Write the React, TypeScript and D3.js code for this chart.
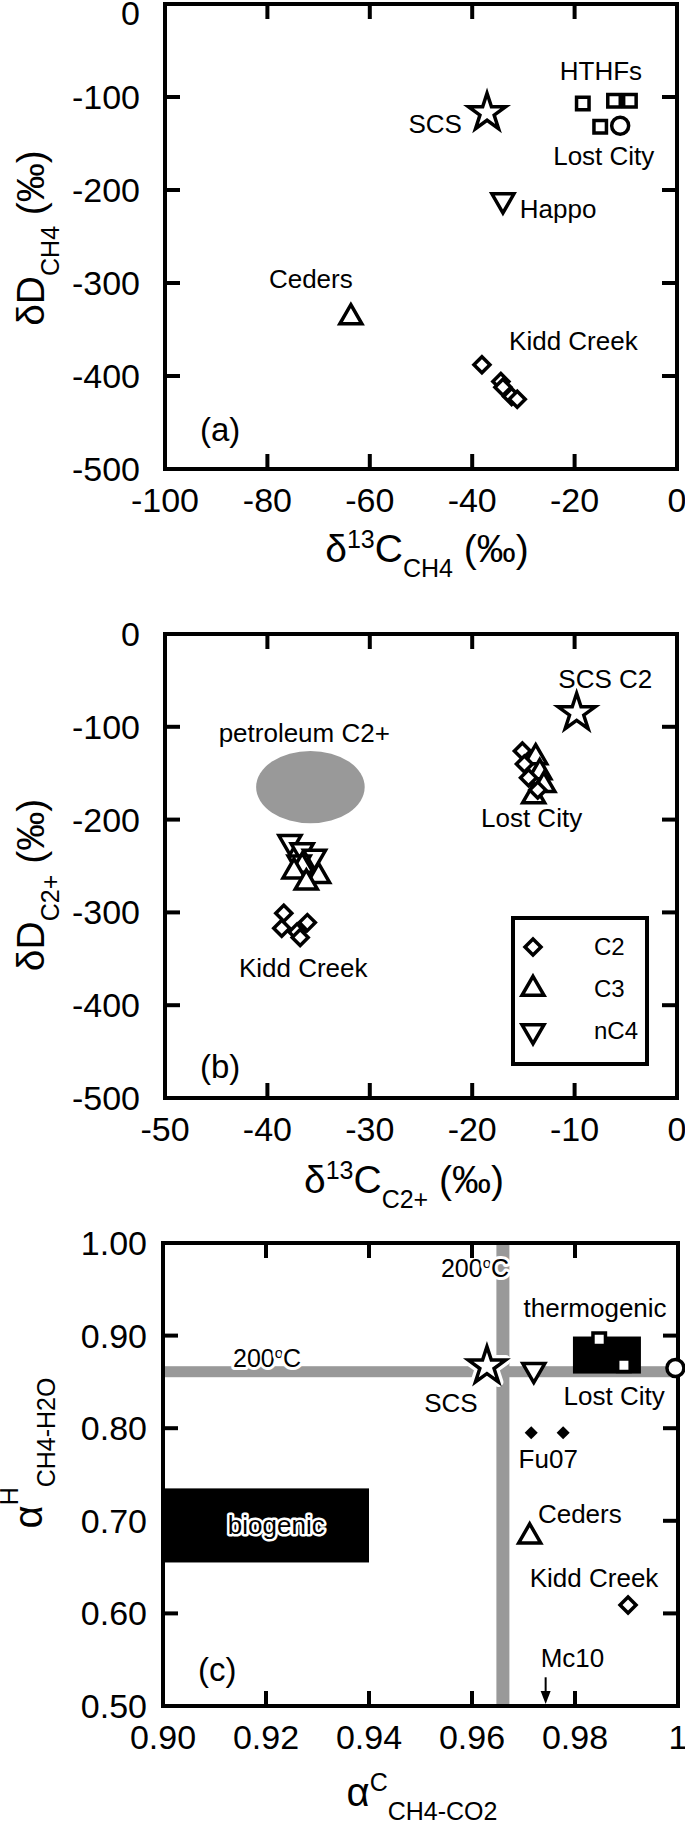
import * as d3 from 'd3';

type Pt = [number, number];
type Scale = d3.ScaleLinear<number, number>;

// (a) dD vs d13C of methane
const aScs: Pt[] = [[-37.1, -117]];
const aHthfs: Pt[] = [[-18.4, -107], [-12.3, -104], [-9.2, -104], [-15.0, -132]];
const aLostCity: Pt[] = [[-11.1, -131]];
const aHappo: Pt[] = [[-34.0, -211]];
const aCeders: Pt[] = [[-63.7, -337]];
const aKiddCreek: Pt[] = [[-38.1, -388], [-34.4, -406], [-34.0, -412], [-32.3, -422], [-31.2, -425]];
const aXTicks = [-100, -80, -60, -40, -20, 0];
const aYTicks = [0, -100, -200, -300, -400, -500];

// (b) dD vs d13C of C2+ hydrocarbons
const bScsC2: Pt[] = [[-9.8, -85]];
const bLostCityC2: Pt[] = [[-15.1, -126], [-14.9, -140], [-14.5, -155], [-13.6, -168]];
const bLostCityC3: Pt[] = [[-13.8, -133], [-13.4, -149], [-13.0, -163], [-14.0, -175]];
const bKiddC2: Pt[] = [[-38.4, -301], [-38.6, -317], [-36.1, -311], [-37.1, -321], [-36.8, -327]];
const bKiddC3: Pt[] = [[-36.6, -250], [-37.4, -256], [-35.0, -261], [-36.2, -268]];
const bKiddNC4: Pt[] = [[-37.8, -224], [-36.6, -233], [-35.4, -240], [-36.9, -246]];
const bPetroleumCenter: Pt = [-35.8, -165];
const bPetroleumRadius: Pt = [5.3, 39];
const bXTicks = [-50, -40, -30, -20, -10, 0];
const bYTicks = [0, -100, -200, -300, -400, -500];
const bLegendLabels = ['C2', 'C3', 'nC4'];

// (c) fractionation factors alpha-H vs alpha-C
const cScs: Pt[] = [[0.9629, 0.867]];
const cHappo: Pt[] = [[0.972, 0.863]];
const cHthfs: Pt[] = [[0.9847, 0.896], [0.9895, 0.868]];
const cLostCity: Pt[] = [[0.9995, 0.865]];
const cFu07: Pt[] = [[0.9715, 0.795], [0.9777, 0.795]];
const cCeders: Pt[] = [[0.9712, 0.683]];
const cKiddCreek: Pt[] = [[0.9903, 0.609]];
const cMc10 = 0.9743;
const cBiogenicX: Pt = [0.9, 0.94];
const cBiogenicY: Pt = [0.655, 0.735];
const cThermoX: Pt = [0.9796, 0.9928];
const cThermoY: Pt = [0.859, 0.899];
const c200AlphaC = 0.966;
const c200AlphaH = 0.861;
const cXTicks = [0.9, 0.92, 0.94, 0.96, 0.98, 1];
const cXTickLabels = ['0.90', '0.92', '0.94', '0.96', '0.98', '1'];
const cYTicks = [1, 0.9, 0.8, 0.7, 0.6, 0.5];
const cYTickLabels = ['1.00', '0.90', '0.80', '0.70', '0.60', '0.50'];

const FONT = 'Liberation Sans, Arial, Helvetica, sans-serif';
const GRAY = '#999999';

const sym = (type: d3.SymbolType, size: number) => d3.symbol().type(type).size(size)() ?? '';
const STAR = sym(d3.symbolStar, 430);
const TRI = sym(d3.symbolTriangle, 210);
const SQUARE = sym(d3.symbolSquare, 156);
const DIAMOND = sym(d3.symbolSquare, 128);
const SMALL_DIAMOND = sym(d3.symbolSquare, 85);

type MarkerProps = {
  cx: number;
  cy: number;
  d: string;
  rotate?: number;
  fill?: string;
  halo?: boolean;
};

function Marker({ cx, cy, d, rotate = 0, fill = '#fff', halo = false }: MarkerProps) {
  const tf = `translate(${cx},${cy}) rotate(${rotate})`;
  return (
    <g transform={tf}>
      {halo && <path d={d} fill="#fff" stroke="#fff" strokeWidth={10} strokeLinejoin="round" />}
      <path d={d} fill={fill} stroke="#000" strokeWidth={fill === '#000' ? 0 : 3.5} />
    </g>
  );
}

function Circle({ cx, cy }: { cx: number; cy: number }) {
  return <circle cx={cx} cy={cy} r={8.5} fill="#fff" stroke="#000" strokeWidth={3.5} />;
}

type FrameProps = {
  x: Scale;
  y: Scale;
  xTicks: number[];
  yTicks: number[];
  xLabels: string[];
  yLabels: string[];
  yLabelX: number;
};

function Frame({ x, y, xTicks, yTicks, xLabels, yLabels, yLabelX }: FrameProps) {
  const [left, right] = x.range();
  const [top, bottom] = y.range();
  const tl = 15;
  return (
    <g>
      <rect x={left} y={top} width={right - left} height={bottom - top} fill="none" stroke="#000" strokeWidth={4} />
      {xTicks.slice(1, -1).map((t) => (
        <g key={'xt' + t} stroke="#000" strokeWidth={4}>
          <line x1={x(t)} x2={x(t)} y1={bottom} y2={bottom - tl} />
          <line x1={x(t)} x2={x(t)} y1={top} y2={top + tl} />
        </g>
      ))}
      {yTicks.slice(1, -1).map((t) => (
        <g key={'yt' + t} stroke="#000" strokeWidth={4}>
          <line x1={left} x2={left + tl} y1={y(t)} y2={y(t)} />
          <line x1={right} x2={right - tl} y1={y(t)} y2={y(t)} />
        </g>
      ))}
      {xTicks.map((t, i) => (
        <text key={'xl' + t} x={x(t)} y={bottom + 43} textAnchor="middle" fontSize={34}>
          {xLabels[i]}
        </text>
      ))}
      {yTicks.map((t, i) => (
        <text key={'yl' + t} x={yLabelX} y={Math.max(y(t) + 12, 25)} textAnchor="end" fontSize={34}>
          {yLabels[i]}
        </text>
      ))}
    </g>
  );
}

type Note = { t: string; x: number; y: number; anchor: 'start' | 'middle' | 'end' };

function Notes({ notes, x, y }: { notes: Note[]; x: Scale; y: Scale }) {
  return (
    <g fontSize={26}>
      {notes.map((n) => (
        <text key={n.t + n.x} x={x(n.x)} y={y(n.y)} textAnchor={n.anchor}>
          {n.t}
        </text>
      ))}
    </g>
  );
}

function PanelA() {
  const x = d3.scaleLinear().domain([-100, 0]).range([165, 677]);
  const y = d3.scaleLinear().domain([0, -500]).range([4, 469]);
  const notes: Note[] = [
    { t: 'HTHFs', x: -22.9, y: -82, anchor: 'start' },
    { t: 'SCS', x: -42, y: -139, anchor: 'end' },
    { t: 'Lost City', x: -14.3, y: -173, anchor: 'middle' },
    { t: 'Happo', x: -30.7, y: -230, anchor: 'start' },
    { t: 'Ceders', x: -79.7, y: -305, anchor: 'start' },
    { t: 'Kidd Creek', x: -32.8, y: -372, anchor: 'start' },
  ];
  return (
    <g>
      <Notes notes={notes} x={x} y={y} />
      {aHthfs.map((p, i) => <Marker key={'h' + i} cx={x(p[0])} cy={y(p[1])} d={SQUARE} />)}
      {aLostCity.map((p, i) => <Circle key={'l' + i} cx={x(p[0])} cy={y(p[1])} />)}
      {aScs.map((p, i) => <Marker key={'s' + i} cx={x(p[0])} cy={y(p[1])} d={STAR} />)}
      {aHappo.map((p, i) => <Marker key={'p' + i} cx={x(p[0])} cy={y(p[1])} d={TRI} rotate={180} />)}
      {aCeders.map((p, i) => <Marker key={'c' + i} cx={x(p[0])} cy={y(p[1])} d={TRI} />)}
      {aKiddCreek.map((p, i) => <Marker key={'k' + i} cx={x(p[0])} cy={y(p[1])} d={DIAMOND} rotate={45} />)}
      <text x={200} y={441} fontSize={33}>(a)</text>
      <Frame
        x={x}
        y={y}
        xTicks={aXTicks}
        yTicks={aYTicks}
        xLabels={aXTicks.map(String)}
        yLabels={aYTicks.map(String)}
        yLabelX={140}
      />
      <text x={427} y={562} textAnchor="middle" fontSize={39}>
        δ<tspan dy={-14} fontSize={25}>13</tspan>
        <tspan dy={14}>C</tspan>
        <tspan dy={15} fontSize={25}>CH4</tspan>
        <tspan dy={-15}>{' (‰)'}</tspan>
      </text>
      <text transform="translate(44,238) rotate(-90)" textAnchor="middle" fontSize={39}>
        δD<tspan dy={15} fontSize={25}>CH4</tspan>
        <tspan dy={-15}>{' (‰)'}</tspan>
      </text>
    </g>
  );
}

function PanelB() {
  const x = d3.scaleLinear().domain([-50, 0]).range([165, 677]);
  const y = d3.scaleLinear().domain([0, -500]).range([634, 1098]);
  const notes: Note[] = [
    { t: 'SCS C2', x: -7.0, y: -58, anchor: 'middle' },
    { t: 'petroleum C2+', x: -36.4, y: -116, anchor: 'middle' },
    { t: 'Lost City', x: -14.2, y: -208, anchor: 'middle' },
    { t: 'Kidd Creek', x: -36.5, y: -370, anchor: 'middle' },
  ];
  const legendShapes = [
    { d: DIAMOND, r: 45 },
    { d: TRI, r: 0 },
    { d: TRI, r: 180 },
  ];
  const rowY = [947, 989, 1031];
  return (
    <g>
      <ellipse
        cx={x(bPetroleumCenter[0])}
        cy={y(bPetroleumCenter[1])}
        rx={x(bPetroleumCenter[0] + bPetroleumRadius[0]) - x(bPetroleumCenter[0])}
        ry={y(bPetroleumCenter[1] - bPetroleumRadius[1]) - y(bPetroleumCenter[1])}
        fill={GRAY}
      />
      <Notes notes={notes} x={x} y={y} />
      {bScsC2.map((p, i) => <Marker key={'s' + i} cx={x(p[0])} cy={y(p[1])} d={STAR} />)}
      {bLostCityC3.map((p, i) => <Marker key={'l3' + i} cx={x(p[0])} cy={y(p[1])} d={TRI} />)}
      {bLostCityC2.map((p, i) => <Marker key={'l2' + i} cx={x(p[0])} cy={y(p[1])} d={DIAMOND} rotate={45} />)}
      {bKiddNC4.map((p, i) => <Marker key={'k4' + i} cx={x(p[0])} cy={y(p[1])} d={TRI} rotate={180} />)}
      {bKiddC3.map((p, i) => <Marker key={'k3' + i} cx={x(p[0])} cy={y(p[1])} d={TRI} />)}
      {bKiddC2.map((p, i) => <Marker key={'k2' + i} cx={x(p[0])} cy={y(p[1])} d={DIAMOND} rotate={45} />)}
      <rect x={513} y={918} width={134} height={146} fill="#fff" stroke="#000" strokeWidth={4} />
      {bLegendLabels.map((l, i) => (
        <g key={l}>
          <Marker cx={533} cy={rowY[i]} d={legendShapes[i].d} rotate={legendShapes[i].r} />
          <text x={594} y={rowY[i] + 8} fontSize={24}>
            {l}
          </text>
        </g>
      ))}
      <text x={200} y={1078} fontSize={33}>(b)</text>
      <Frame
        x={x}
        y={y}
        xTicks={bXTicks}
        yTicks={bYTicks}
        xLabels={bXTicks.map(String)}
        yLabels={bYTicks.map(String)}
        yLabelX={140}
      />
      <text x={404} y={1193} textAnchor="middle" fontSize={39}>
        δ<tspan dy={-14} fontSize={25}>13</tspan>
        <tspan dy={14}>C</tspan>
        <tspan dy={15} fontSize={25}>C2+</tspan>
        <tspan dy={-15}>{' (‰)'}</tspan>
      </text>
      <text transform="translate(44,885) rotate(-90)" textAnchor="middle" fontSize={39}>
        δD<tspan dy={15} fontSize={25}>C2+</tspan>
        <tspan dy={-15}>{' (‰)'}</tspan>
      </text>
    </g>
  );
}

function Halo200({ x, y, anchor }: { x: number; y: number; anchor: 'start' | 'end' }) {
  return (
    <text
      x={x}
      y={y}
      textAnchor={anchor}
      fontSize={25}
      stroke="#fff"
      strokeWidth={6}
      strokeLinejoin="round"
      paintOrder="stroke"
    >
      200<tspan dy={-9} fontSize={15}>o</tspan>
      <tspan dy={9}>C</tspan>
    </text>
  );
}

function PanelC() {
  const x = d3.scaleLinear().domain([0.9, 1]).range([163, 678]);
  const y = d3.scaleLinear().domain([1, 0.5]).range([1243, 1706]);
  const [left, right] = x.range();
  const [top, bottom] = y.range();
  const bandH = 11;
  const bandW = 13;
  const notes: Note[] = [
    { t: 'thermogenic', x: 0.9839, y: 0.92, anchor: 'middle' },
    { t: 'SCS', x: 0.9559, y: 0.817, anchor: 'middle' },
    { t: 'Lost City', x: 0.9876, y: 0.825, anchor: 'middle' },
    { t: 'Fu07', x: 0.9748, y: 0.757, anchor: 'middle' },
    { t: 'Ceders', x: 0.9728, y: 0.698, anchor: 'start' },
    { t: 'Kidd Creek', x: 0.9837, y: 0.628, anchor: 'middle' },
    { t: 'Mc10', x: 0.9795, y: 0.542, anchor: 'middle' },
  ];
  const ax = x(cMc10);
  const tipY = y(0.5) - 2;
  return (
    <g>
      <rect x={left} y={y(c200AlphaH) - bandH / 2} width={right - left} height={bandH} fill={GRAY} />
      <rect x={x(c200AlphaC) - bandW / 2} y={top} width={bandW} height={bottom - top} fill={GRAY} />
      <Halo200 x={x(0.9136)} y={y(0.866)} anchor="start" />
      <Halo200 x={x(0.9672)} y={y(0.963)} anchor="end" />
      <rect
        x={x(cBiogenicX[0])}
        y={y(cBiogenicY[1])}
        width={x(cBiogenicX[1]) - x(cBiogenicX[0])}
        height={y(cBiogenicY[0]) - y(cBiogenicY[1])}
        fill="#000"
      />
      <text
        x={x(0.922)}
        y={y(0.686)}
        textAnchor="middle"
        fontSize={26}
        stroke="#fff"
        strokeWidth={5}
        strokeLinejoin="round"
        paintOrder="stroke"
      >
        biogenic
      </text>
      <rect
        x={x(cThermoX[0])}
        y={y(cThermoY[1])}
        width={x(cThermoX[1]) - x(cThermoX[0])}
        height={y(cThermoY[0]) - y(cThermoY[1])}
        fill="#000"
      />
      {cHthfs.map((p, i) => <Marker key={'h' + i} cx={x(p[0])} cy={y(p[1])} d={SQUARE} />)}
      <Notes notes={notes} x={x} y={y} />
      {cScs.map((p, i) => <Marker key={'s' + i} cx={x(p[0])} cy={y(p[1])} d={STAR} halo />)}
      {cHappo.map((p, i) => <Marker key={'p' + i} cx={x(p[0])} cy={y(p[1])} d={TRI} rotate={180} />)}
      {cFu07.map((p, i) => (
        <Marker key={'f' + i} cx={x(p[0])} cy={y(p[1])} d={SMALL_DIAMOND} rotate={45} fill="#000" />
      ))}
      {cCeders.map((p, i) => <Marker key={'c' + i} cx={x(p[0])} cy={y(p[1])} d={TRI} />)}
      {cKiddCreek.map((p, i) => <Marker key={'k' + i} cx={x(p[0])} cy={y(p[1])} d={DIAMOND} rotate={45} />)}
      <line x1={ax} x2={ax} y1={y(0.531)} y2={tipY - 8} stroke="#000" strokeWidth={2} />
      <path d={`M${ax - 5},${tipY - 13}L${ax + 5},${tipY - 13}L${ax},${tipY}Z`} fill="#000" />
      <text x={198} y={1681} fontSize={33}>(c)</text>
      <Frame
        x={x}
        y={y}
        xTicks={cXTicks}
        yTicks={cYTicks}
        xLabels={cXTickLabels}
        yLabels={cYTickLabels}
        yLabelX={147}
      />
      {cLostCity.map((p, i) => <Circle key={'l' + i} cx={x(p[0])} cy={y(p[1])} />)}
      <text x={422} y={1806} textAnchor="middle" fontSize={40}>
        α<tspan dy={-15} fontSize={25}>C</tspan>
        <tspan dy={29} fontSize={25}>CH4-CO2</tspan>
      </text>
      <text transform="translate(42,1453) rotate(-90)" textAnchor="middle" fontSize={40}>
        α<tspan dy={-24} fontSize={25}>H</tspan>
        <tspan dy={37} fontSize={25}>CH4-H2O</tspan>
      </text>
    </g>
  );
}

export default function App() {
  return (
    <svg
      width={685}
      height={1824}
      viewBox="0 0 685 1824"
      style={{ position: 'absolute', left: 0, top: 0, display: 'block', background: '#fff' }}
      fontFamily={FONT}
    >
      <rect width={685} height={1824} fill="#fff" />
      <PanelA />
      <PanelB />
      <PanelC />
    </svg>
  );
}
